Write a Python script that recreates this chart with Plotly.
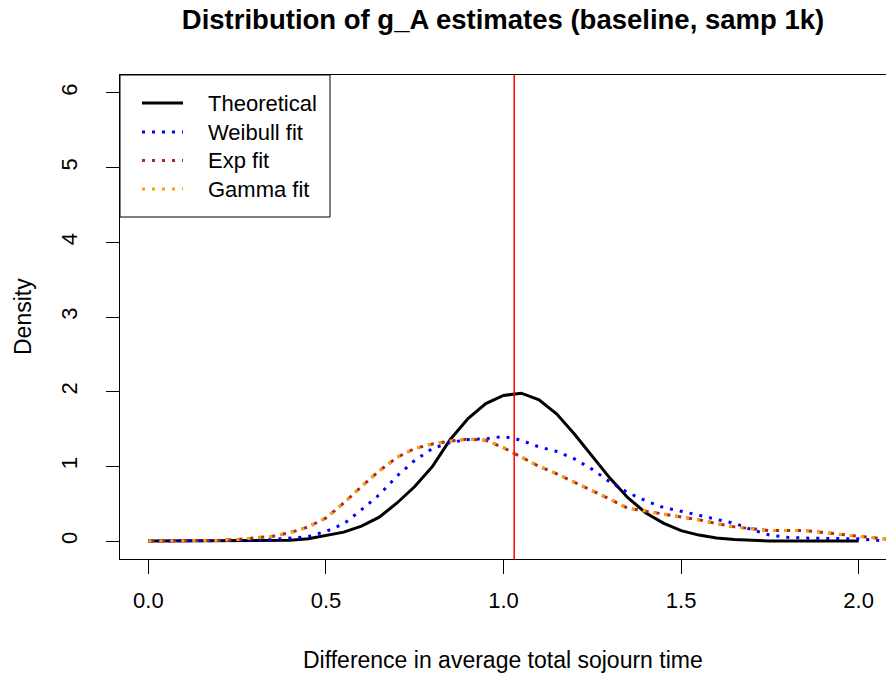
import plotly.graph_objects as go

# ---------------- data ----------------
x_grid = [0.00, 0.05, 0.10, 0.15, 0.20, 0.25, 0.30, 0.35, 0.40, 0.45,
          0.50, 0.55, 0.60, 0.65, 0.70, 0.75, 0.80, 0.85, 0.90, 0.95,
          1.00, 1.05, 1.10, 1.15, 1.20, 1.25, 1.30, 1.35, 1.40, 1.45,
          1.50, 1.55, 1.60, 1.65, 1.70, 1.75, 1.80, 1.85, 1.90, 1.95,
          2.00, 2.05, 2.10]

theoretical = [0.00, 0.00, 0.00, 0.00, 0.00, 0.00, 0.00, 0.00, 0.01, 0.03,
               0.07, 0.12, 0.20, 0.32, 0.51, 0.73, 1.00, 1.36, 1.64, 1.84,
               1.95, 1.98, 1.89, 1.70, 1.43, 1.14, 0.84, 0.58, 0.38, 0.24,
               0.14, 0.08, 0.04, 0.02, 0.01, 0.00, 0.00, 0.00, 0.00, 0.00,
               0.00, None, None]

weibull = [0.00, 0.00, 0.00, 0.00, 0.00, 0.00, 0.01, 0.02, 0.04, 0.06,
           0.13, 0.23, 0.42, 0.62, 0.87, 1.08, 1.24, 1.32, 1.36, 1.37,
           1.40, 1.35, 1.26, 1.20, 1.10, 0.96, 0.79, 0.65, 0.54, 0.45,
           0.40, 0.34, 0.29, 0.24, 0.15, 0.08, 0.05, 0.04, 0.04, 0.04,
           0.03, 0.01, 0.00]

exp_fit = [0.00, 0.00, 0.00, 0.00, 0.01, 0.02, 0.04, 0.065, 0.115, 0.19,
           0.31, 0.51, 0.73, 0.94, 1.12, 1.24, 1.30, 1.34, 1.365, 1.35,
           1.25, 1.12, 1.00, 0.90, 0.79, 0.68, 0.56, 0.44, 0.40, 0.37,
           0.33, 0.285, 0.235, 0.19, 0.165, 0.14, 0.14, 0.14, 0.115, 0.09,
           0.055, 0.035, 0.015]

gamma_fit = [0.00, 0.00, 0.00, 0.00, 0.01, 0.02, 0.04, 0.065, 0.115, 0.19,
             0.31, 0.51, 0.73, 0.94, 1.12, 1.24, 1.30, 1.34, 1.365, 1.35,
             1.25, 1.12, 1.00, 0.90, 0.79, 0.68, 0.56, 0.44, 0.40, 0.37,
             0.33, 0.285, 0.235, 0.19, 0.165, 0.14, 0.14, 0.14, 0.115, 0.09,
             0.055, 0.035, 0.015]

observed_value = 1.03

series_names = ["Theoretical", "Weibull fit", "Exp fit", "Gamma fit"]
series_values = [theoretical, weibull, exp_fit, gamma_fit]

x_tick_vals = [0.0, 0.5, 1.0, 1.5, 2.0]
x_tick_text = ["0.0", "0.5", "1.0", "1.5", "2.0"]
y_tick_vals = [0, 1, 2, 3, 4, 5, 6]
y_tick_text = ["0", "1", "2", "3", "4", "5", "6"]

title_text = "Distribution of g_A estimates (baseline, samp 1k)"
x_title = "Difference in average total sojourn time"
y_title = "Density"

# ---------------- styles ----------------
FONT = "Liberation Sans, Arial, sans-serif"
colors = ["black", "blue", "#A52A2A", "#FFA500"]
widths = [3, 3, 3, 3]
curve_dashes = ["solid", "3px,7px", "6px,5px", "3px,8px"]
legend_dashes = ["solid", "3px,7px", "3px,7px", "3px,7px"]

fig = go.Figure()
for name, vals, c, w, d in zip(series_names, series_values, colors, widths, curve_dashes):
    fig.add_trace(go.Scatter(x=x_grid, y=vals, mode="lines", name=name,
                             line=dict(color=c, width=w, dash=d),
                             showlegend=False, connectgaps=False))

# vertical reference line
fig.add_shape(type="line", xref="x", yref="paper", x0=observed_value, x1=observed_value,
              y0=0, y1=1, line=dict(color="red", width=1.5), layer="above")

# ---------------- custom legend (R style) ----------------
W, H = 766.0, 484.0  # plot area size in px
fig.add_shape(type="rect", xref="paper", yref="paper",
              x0=0, x1=210 / W, y0=1 - 142 / H, y1=1,
              line=dict(color="black", width=1), fillcolor="white", layer="above")
row_px = [28, 57, 85.5, 114]
for name, c, w, d, r in zip(series_names, colors, widths, legend_dashes, row_px):
    yy = 1 - r / H
    fig.add_shape(type="line", xref="paper", yref="paper",
                  x0=22 / W, x1=63 / W, y0=yy, y1=yy,
                  line=dict(color=c, width=w, dash=d), layer="above")
    fig.add_annotation(xref="paper", yref="paper", x=86 / W, y=yy,
                       xanchor="left", yanchor="middle", text=name, showarrow=False,
                       font=dict(family=FONT, size=22, color="black"))

# axis titles
fig.add_annotation(xref="paper", yref="paper", x=0.5, y=-(660 - 559) / H,
                   xanchor="center", yanchor="middle", text=x_title, showarrow=False,
                   font=dict(family=FONT, size=23, color="black"))
fig.add_annotation(xref="paper", yref="paper", x=(23 - 120) / W, y=0.5,
                   xanchor="center", yanchor="middle", text=y_title, showarrow=False,
                   textangle=-90, font=dict(family=FONT, size=23, color="black"))

fig.update_layout(
    width=886, height=677,
    margin=dict(l=120, r=0, t=75, b=118),
    paper_bgcolor="white", plot_bgcolor="white",
    title=dict(text="<b>" + title_text + "</b>", x=0.5, xref="paper",
               y=1 - 19 / 677, yref="container", xanchor="center", yanchor="middle",
               font=dict(family=FONT, size=27.5, color="black")),
    font=dict(family=FONT, size=22, color="black"),
)
fig.update_xaxes(range=[-0.08, 2.077], tickvals=x_tick_vals, ticktext=x_tick_text,
                 showgrid=False, zeroline=False, showline=True, mirror=True,
                 linecolor="black", linewidth=1, ticks="outside", ticklen=14,
                 tickcolor="black", tickwidth=1, ticklabelstandoff=8,
                 tickfont=dict(family=FONT, size=22, color="black"))
fig.update_yaxes(range=[-0.24, 6.24], tickvals=y_tick_vals, ticktext=y_tick_text,
                 showgrid=False, zeroline=False, showline=True, mirror=False,
                 linecolor="black", linewidth=1, ticks="outside", ticklen=13,
                 tickcolor="black", tickwidth=1, tickangle=-90, ticklabelstandoff=20,
                 tickfont=dict(family=FONT, size=22, color="black"))

fig.write_html("out.html")
